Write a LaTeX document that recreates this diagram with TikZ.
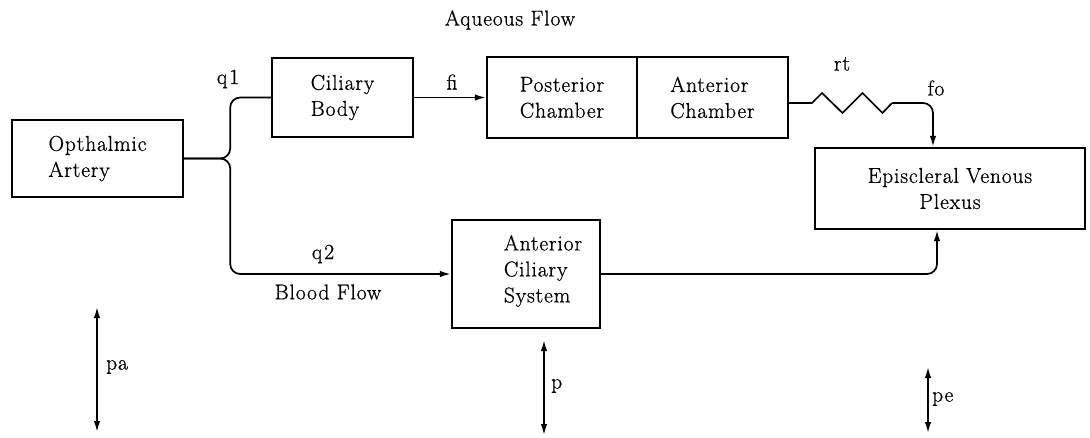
\documentclass[tikz,border=0pt]{standalone}
\usepackage{fontspec}
\setmainfont{Latin Modern Roman}[LetterSpace=4,FakeBold=0.8]
\usetikzlibrary{arrows.meta,calc}
\begin{document}
\begin{tikzpicture}[x=1pt,y=-1pt,
  every node/.style={font=\fontsize{21.5}{26}\selectfont, inner sep=0pt},
  box/.style={draw, line width=2.4pt, rectangle, align=left},
  conn/.style={line width=1.7pt},
  tip/.style={-{Latex[length=11pt,width=6.5pt]}},
  both/.style={line width=1.7pt,{Latex[length=11pt,width=6.5pt]}-{Latex[length=11pt,width=6.5pt]}}]
\useasboundingbox (0,0) rectangle (1090,437);

% blocks
\node[box, minimum width=171, minimum height=77] (art) at (97.5,158.5) {Opthalmic\\Artery};
\node[box, minimum width=141, minimum height=79] (cil) at (342.5,97.5) {Ciliary\\Body};
\node[box, minimum width=150, minimum height=81] (post) at (562,97.5) {Posterior\\Chamber};
\node[box, minimum width=151, minimum height=81] (ant) at (712.5,97.5) {Anterior\\Chamber};
\node[box, align=center, minimum width=270, minimum height=81] (evp) at (950,188.5) {Episcleral Venous\\Plexus};
\node[box, minimum width=148, minimum height=108] (acs) at (526,274) {};
\node[align=left] (acst) at (543,271) {Anterior\\Ciliary\\System};

% flows
\draw[conn, rounded corners=10] (art.east) -- ($(art.east)+(46,0)$) |- (cil.west);
\draw[conn, tip, rounded corners=10] (art.east) -- ($(art.east)+(46,0)$) |- (acs.west);
\draw[conn, tip] (cil.east) -- (post.west);

\coordinate (zs) at (812,103);
\coordinate (ze) at (892,103);
\coordinate (fin) at ($(evp.north)+(-17,0)$);
\draw[conn, line join=miter] ($(ant.east)+(0,5.5)$) -- (zs) -- ++(10,-10) -- ++(20.5,20) -- ++(20,-20) -- ++(20,20) -- (ze);
\draw[conn, tip, rounded corners=10] (ze) -| (fin);
\draw[conn, tip, rounded corners=10] (acs.east) -| ($(evp.south)+(-13,0)$);

% labels
\node (title) at (510,20) {Aqueous Flow};
\node (q1) at (228,79) {q\kern2pt1};
\node (fi) at (452,82) {fi};
\node (q2) at (323,254) {q\kern2pt2};
\node (bf) at (328,292) {Blood Flow};
\node (rt) at (842,64) {rt};
\node (fo) at (936,88) {fo};

% pressures
\coordinate (pa1) at (97,307); \coordinate (pa2) at (97,432);
\draw[both] (pa1) -- (pa2);
\node[anchor=west] (pa) at (106,367) {pa};
\coordinate (p1) at (544,340); \coordinate (p2) at (544,435);
\draw[both] (p1) -- (p2);
\node[anchor=west] (p) at (551,386) {p};
\coordinate (pe1) at (928,367); \coordinate (pe2) at (928,433);
\draw[both] (pe1) -- (pe2);
\node[anchor=west] (pe) at (932,399) {pe};
\end{tikzpicture}
\end{document}
